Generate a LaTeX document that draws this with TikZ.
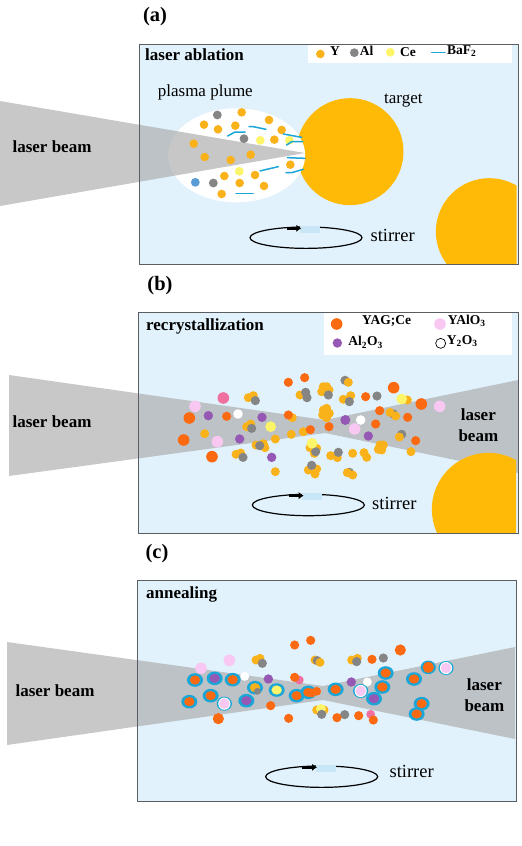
\documentclass[tikz,border=0pt]{standalone}
\usepackage{fontspec}
\setmainfont{Liberation Serif}
\usetikzlibrary{arrows.meta}
\definecolor{tank}{HTML}{E1F2FC}
\definecolor{frameline}{HTML}{5A5E62}
\definecolor{beamgray}{HTML}{A6A6A6}
\definecolor{targetgold}{HTML}{FFBA08}
\definecolor{dotgold}{HTML}{F9B21A}
\definecolor{dotgray}{HTML}{858585}
\definecolor{dotyellow}{HTML}{FCF56A}
\definecolor{dotblue}{HTML}{5B9BD5}
\definecolor{dotorange}{HTML}{FB6A10}
\definecolor{dotpink}{HTML}{F8C8F2}
\definecolor{dotpurple}{HTML}{9558B4}
\definecolor{dotrose}{HTML}{F0709F}
\definecolor{ringblue}{HTML}{1BA6D8}
\definecolor{stirbar}{HTML}{C8E6F6}
\tikzset{
  x=1pt,y=-1pt,
  tankfill/.style={fill=tank},
  tankframe/.style={draw=frameline,line width=1pt},
  beamshape/.style={fill=beamgray,fill opacity=.62,draw=none},
  title/.style={inner sep=0,font=\fontsize{20.5}{22}\selectfont\bfseries},
  heading/.style={inner sep=0,anchor=west,font=\fontsize{17}{18}\selectfont\bfseries},
  beamlabel/.style={inner sep=0,align=center,font=\fontsize{17}{21}\selectfont\bfseries},
  plainlabel/.style={inner sep=0,font=\fontsize{17}{20}\selectfont},
  stirlabel/.style={inner sep=0,font=\fontsize{18.5}{20}\selectfont},
  keylabel/.style={inner sep=0,font=\fontsize{13.5}{15}\selectfont\bfseries},
  magnified/.style={x=.33333pt,y=-.33333pt},
  stirloop/.style={draw=black,line width=1.2pt},
  stirarrow/.style={-{Latex[length=5pt,width=7.5pt]},line width=3pt,draw=black},
  baf/.style={draw=ringblue,line width=1.5pt,line join=round,line cap=round}
}
% \spots{colour}{radius}{x/y list}
\newcommand\spots[3]{\foreach \px/\py in {#3}{\fill[#1] (\px,\py) circle (#2);}}
% \ringed{inner colour}{x/y list}: particle inside a blue shell
\newcommand\ringed[2]{\foreach \px/\py in {#2}{%
  \fill[ringblue] (\px,\py) ellipse [x radius=8pt,y radius=6.8pt];
  \fill[#1] (\px,\py) ellipse [x radius=5.2pt,y radius=4.6pt];}}
% \stirrer{cx}{cy}: stirring loop with its bar and arrow
\newcommand\stirrer[2]{%
  \draw[stirloop] (#1,#2) ellipse [x radius=56pt,y radius=10.7pt];
  \fill[stirbar] (#1-18,#2-36) rectangle (#1+42,#2-15);
  \draw[stirarrow] (#1-58,#2-28) -- (#1-14,#2-28);}
\begin{document}
\begin{tikzpicture}
\useasboundingbox (0,0) rectangle (522,846);

% ---------- panel (a): laser ablation ----------
\node[title] (tagA) at (155,17) {(a)};
\path[tankfill] (139,44) rectangle (518,264);
\begin{scope}[shift={(130,30)},magnified]
  \begin{scope}
    \clip (27,42) rectangle (1160,702);
    \fill[targetgold] (1078,605) circle (53.5pt);
  \end{scope}
  \fill[targetgold] (660,365) circle (53.5pt);
  \fill[white] (320,376) ellipse [x radius=68.5pt,y radius=47pt];
  \fill[white] (533,45) rectangle (1145,100);
\end{scope}
\path[beamshape] (0,101) -- (305,153) -- (0,206) -- cycle;
\path[tankframe] (139,44) rectangle (518,264);
\begin{scope}[shift={(130,30)},magnified]
  \spots{dotgold}{4.3pt}{335/247,417/270,222/284,264/298,316/287,455/300,433/329,191/341,224/381,302/390,362/374,481/404,283/438,375/435,329/459,402/468,275/492,571/72}
  \spots{dotgray}{4.4pt}{262/255,342/326,250/459,673/68}
  \spots{dotyellow}{4.4pt}{391/331,478/331,328/424,781/67}
  \spots{dotblue}{4.4pt}{196/457}
  \draw[baf] (357,290) -- (370,290) -- (408,298);
  \draw[baf] (293,318) -- (315,306) -- (345,306);
  \draw[baf] (460,312) -- (515,322);
  \draw[baf] (470,345) -- (485,335) -- (518,335);
  \draw[baf] (472,383) -- (525,385);
  \draw[baf] (390,423) -- (410,418) -- (445,410);
  \draw[baf] (468,428) -- (485,428) -- (520,418);
  \draw[baf] (318,490) -- (370,490);
  \draw[baf] (905,68) -- (945,68);
  \stirrer{528}{623}
  \node[heading] (headA) at (45,75) {laser ablation};
  \node[plainlabel] (plume) at (226,187) {plasma plume};
  \node[plainlabel] (target) at (820,213) {target};
  \node[stirlabel] (stirA) at (788,617) {stirrer};
  \node[keylabel] (keyY) at (615,62) {Y};
  \node[keylabel] (keyAl) at (710,62) {Al};
  \node[keylabel] (keyCe) at (834,65) {Ce};
  \node[keylabel] (keyBa) at (995,63) {BaF\textsubscript{2}};
\end{scope}
\node[beamlabel] (beamA) at (52,147) {laser beam};

% ---------- panel (b): recrystallization ----------
\node[title] (tagB) at (160,286) {(b)};
\path[tankfill] (138,312) rectangle (518,533);
\path[beamshape] (9,375) -- (325,420) -- (518,380) -- (518,473) -- (325,433) -- (9,476) -- cycle;
\begin{scope}[shift={(130,305)},magnified]
  \begin{scope}
    \clip (25,22) rectangle (1158,685);
    \fill[targetgold] (1075,613) circle (56.5pt);
  \end{scope}
  \fill[white] (583,25) rectangle (1147,150);
\end{scope}
\path[tankframe] (138,312) rectangle (518,533);
\begin{scope}[shift={(130,305)},magnified]
  \spots{dotgray}{4.6pt}{645/226,790/327,815/388,658/502}
  \spots{dotgold}{4.5pt}{355/278,370/272,224/386,350/365,362/357,487/338,436/402,484/388,520/380,378/420,405/428,400/416,318/448,332/444,510/270,580/245,590/245,575/260,590/262,597/255,580/315,590/310,578/330,598/325,590/338,640/283,662/272,655/232,832/285,797/333,780/322,808/396,843/440,750/420,760/420,745/433,755/435,668/445,702/443,710/457,602/452,622/458,540/428,560/430,553/445,436/500,535/495,560/492,555/507,652/503,668/510}
  \spots{dotgray}{4.6pt}{376/287,527/262,531/278,595/270,658/290,741/273,365/370,389/422,339/457,557/440,625/442,545/481}
  \spots{dotorange}{4.6pt}{524/218,475/232,290/334,475/330,541/374,597/365,707/275,749/317,833/337,737/357,857/407}
  \spots{dotorange}{5.8pt}{178/339,161/405,246/455,874/297,791/248,620/57}
  \spots{dotrose}{5.8pt}{280/279}
  \spots{dotpink}{5.8pt}{195/304,262/410,929/304,674/372,930/57}
  \spots{dotpurple}{4.7pt}{235/332,396/337,329/402,425/457,715/393,622/114}
  \spots{dotpurple}{5pt}{646/345}
  \spots{white}{4.8pt}{324/327,692/345}
  \spots{dotyellow}{5.4pt}{422/365,546/415,815/282}
  \draw[black,line width=.7pt,fill=white] (932,115) circle (5pt);
  \stirrer{535}{600}
  \node[heading] (headB) at (48,65) {recrystallization};
  \node[stirlabel] (stirB) at (793,596) {stirrer};
  \node[keylabel] (keyYag) at (770,47) {YAG;Ce};
  \node[keylabel] (keyYal) at (1010,48) {YAlO\textsubscript{3}};
  \node[keylabel] (keyAlo) at (707,112) {Al\textsubscript{2}O\textsubscript{3}};
  \node[keylabel] (keyYo) at (997,107) {Y\textsubscript{2}O\textsubscript{3}};
  \node[beamlabel] (beamBr) at (1045,360) {laser\\beam};
\end{scope}
\node[beamlabel] (beamBl) at (52,422) {laser beam};

% ---------- panel (c): annealing ----------
\node[title] (tagC) at (157,554) {(c)};
\path[tankfill] (137,580) rectangle (516,801);
\path[beamshape] (7,642) -- (323,686) -- (515,647) -- (515,739) -- (323,700) -- (7,745) -- cycle;
\path[tankframe] (137,580) rectangle (516,801);
\begin{scope}[shift={(130,575)},magnified]
  \spots{dotgold}{4.5pt}{378/255,390/250,555/255,665/255,682/250,560/405,582/405}
  \spots{dotgray}{4.6pt}{397/265,562/257,680/260,760/249,644/419}
  \spots{dotyellow}{5pt}{573/402}
  \spots{dotgold}{4.5pt}{570/262}
  \spots{dotgray}{4.6pt}{575/418}
  \spots{dotrose}{4.4pt}{508/315,722/418}
  \spots{dotorange}{4.6pt}{494/210,542/196,726/253,422/392,476/430,621/428,686/422,730/435,494/307}
  \spots{dotorange}{5.6pt}{811/225,265/431}
  \spots{dotpink}{5.8pt}{213/280,298/256}
  \spots{dotpurple}{4.7pt}{415/312,664/321}
  \spots{white}{4.5pt}{344/304,712/321}
  \ringed{dotorange}{195/315,308/314,178/380,242/362,500/362,535/352,617/343,767/294,852/312,757/336,875/386,860/417}
  \foreach \px/\py in {895/277}{%
    \fill[ringblue] (\px,\py) ellipse [x radius=7.6pt,y radius=6.8pt];
    \fill[dotorange] (\px,\py) circle (5.6pt);}
  \spots{dotorange}{4.4pt}{545/354,560/349}
  \ringed{dotpurple}{254/310,349/377,732/371}
  \ringed{dotyellow}{440/345}
  \ringed{dotgold}{375/338}
  \spots{dotgray}{3.4pt}{382/349}
  \foreach \px/\py in {283/386,692/348,948/279}{%
    \fill[ringblue] (\px,\py) ellipse [x radius=7.6pt,y radius=7pt];
    \fill[white] (\px,\py) circle (6.1pt);
    \fill[dotpink] (\px,\py) circle (5.2pt);}
  \stirrer{575}{605}
  \node[heading] (headC) at (48,57) {annealing};
  \node[stirlabel] (stirC) at (845,588) {stirrer};
  \node[beamlabel] (beamCr) at (1063,362) {laser\\beam};
\end{scope}
\node[beamlabel] (beamCl) at (55,691) {laser beam};
\end{tikzpicture}
\end{document}
